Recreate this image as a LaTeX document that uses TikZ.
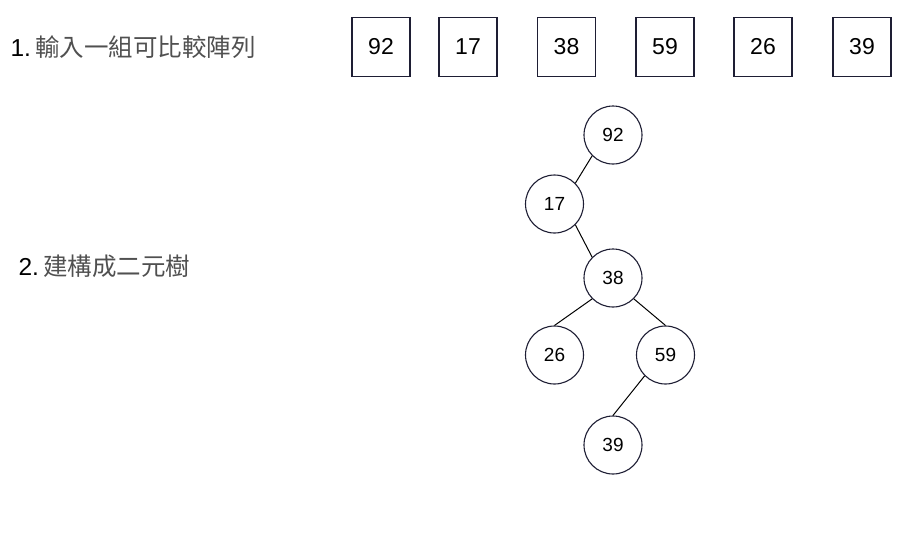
\documentclass[tikz,border=0pt]{standalone}
\usepackage{fontspec}
\setmainfont{Liberation Sans}
\newfontfamily\cjk{Noto Sans CJK TC}
\usepackage{tikz}
\definecolor{edgeblue}{RGB}{30,30,52}
\definecolor{cjkgray}{RGB}{80,80,80}

\begin{document}
\begin{tikzpicture}[x=1pt, y=-1pt, line width=1.1pt,
    cell/.style={draw=edgeblue, minimum width=58pt, minimum height=59pt,
      inner sep=0pt, font=\fontsize{23}{23}\selectfont},
    knot/.style={draw=edgeblue, circle, minimum size=58pt, inner sep=0pt,
      font=\fontsize{19}{19}\selectfont},
    caption/.style={anchor=west, inner sep=0pt, font=\fontsize{24.5}{24.5}\selectfont}]
    \useasboundingbox (0,0) rectangle (908,536);

    %---- step labels
    \node[caption] (t1) at (10,47) {1.\,{\cjk\color{cjkgray}輸入一組可比較陣列}};
    \node[caption] (t2) at (18,266) {2.\,{\cjk\color{cjkgray}建構成二元樹}};

    %---- input array
    \node[cell] (a1) at (381,47)   {92};
    \node[cell] (a2) at (468,47)   {17};
    \node[cell] (a3) at (566.5,47) {38};
    \node[cell] (a4) at (665,47)   {59};
    \node[cell] (a5) at (763,47)   {26};
    \node[cell] (a6) at (862,47)   {39};

    %---- binary tree
    \node[knot] (n92) at (613,135)   {92};
    \node[knot] (n17) at (554.5,204) {17};
    \node[knot] (n38) at (613,278)   {38};
    \node[knot] (n26) at (554.5,355) {26};
    \node[knot] (n59) at (665.5,355) {59};
    \node[knot] (n39) at (613,445)   {39};

    %---- tree edges
    \draw[line width=1pt] (n92.south west) -- (n17.north east);
    \draw[line width=1pt] (n17.south east) -- (n38.north west);
    \draw[line width=1pt] (n38.south west) -- (n26.north);
    \draw[line width=1pt] (n38.south east) -- (n59.north);
    \draw[line width=1pt] (n59.south west) -- (n39.north);

\end{tikzpicture}
\end{document}
